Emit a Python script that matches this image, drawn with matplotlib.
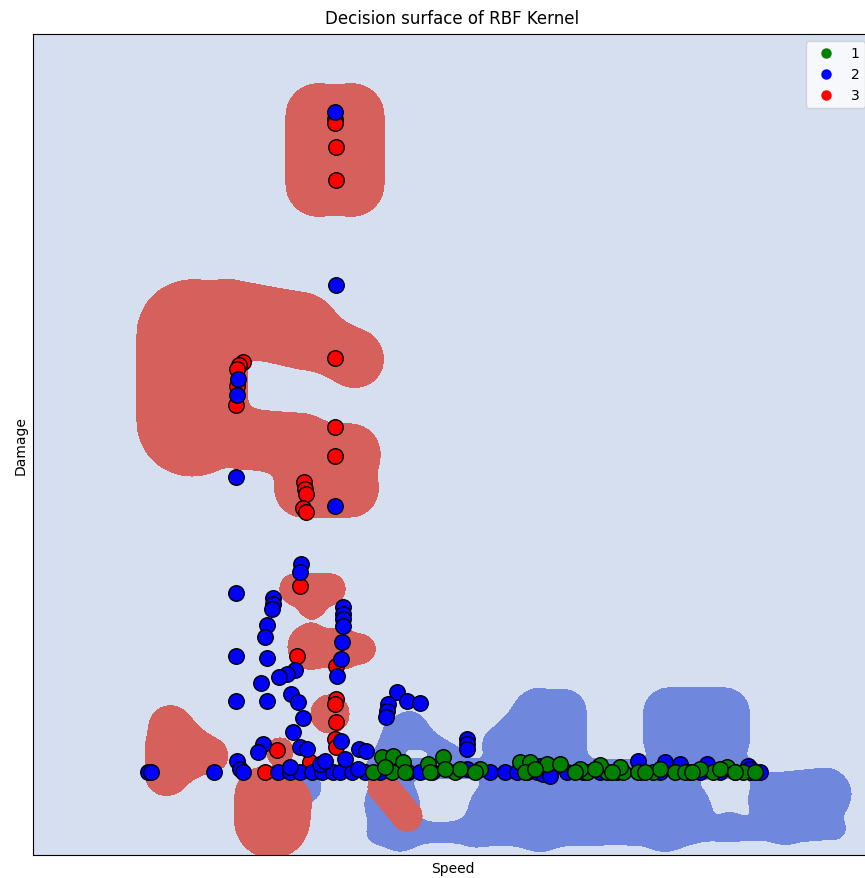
import numpy as np
import matplotlib
matplotlib.use("Agg")
import matplotlib.pyplot as plt
from matplotlib.lines import Line2D

# ---------------- data: observations ----------------
class1_speed = [382, 393, 403, 373, 392, 443, 455, 428, 520, 530, 547, 560, 587, 607, 623, 638,
                653, 675, 713, 743, 727, 600, 460, 480, 580, 620, 660, 385, 405, 430, 445, 475,
                525, 535, 575, 595, 612, 645, 685, 720, 735, 755, 700, 692]
class1_damage = [98, 99, 93, 83, 83, 98, 83, 91, 93, 93, 91, 91, 83, 83, 83, 83,
                 83, 83, 83, 83, 88, 90, 86, 86, 86, 88, 86, 88, 83, 83, 86, 83,
                 83, 86, 83, 86, 83, 83, 83, 86, 83, 83, 86, 83]

class2_speed = [335, 336, 335, 238, 237, 236,
                301, 300, 236, 273, 273, 272, 343, 343, 343, 343, 267, 265, 342, 236, 267, 341,
                337, 295, 287, 279, 261, 291, 298, 236, 267, 303, 293, 341, 397, 407, 420, 388,
                387, 386, 467, 467, 467, 263, 258, 300, 307, 359, 366, 237, 240, 148, 151, 214, 243,
                278, 290, 300, 312, 322, 333, 340, 352, 365, 380, 408, 420, 432, 490, 505, 517,
                527, 537, 543, 550, 567, 583, 600, 617, 640, 660, 690, 700, 720, 735, 750, 760,
                290, 320, 325, 345, 358, 467, 540, 638, 665, 680, 707, 748, 750, 543, 550]
class2_damage = [743, 570, 349, 476, 460, 378,
                 291, 283, 262, 257, 251, 246, 248, 241, 236, 229, 230, 218, 213, 199, 197, 196,
                 179, 185, 181, 178, 172, 161, 153, 154, 154, 137, 123, 114, 163, 154, 152, 151,
                 144, 138, 116, 111, 106, 111, 103, 108, 106, 106, 104, 94, 86, 83, 83, 83, 83,
                 83, 83, 83, 83, 83, 83, 83, 83, 83, 83, 83, 83, 83, 83, 83, 83,
                 83, 83, 83, 83, 83, 83, 83, 83, 83, 83, 83, 83, 83, 83, 83, 83,
                 88, 91, 94, 96, 86, 86, 89, 94, 93, 91, 91, 89, 86, 81, 79]

class3_speed = [335, 335, 336, 336, 335, 335, 335, 243, 239, 237, 237, 236, 304, 305, 306, 303,
                306, 300, 297, 336, 336, 335, 336, 335, 336, 277, 265, 310]
class3_damage = [736, 732, 708, 675, 497, 428, 399, 493, 490, 486, 469, 450, 373, 366, 361, 347,
                 343, 269, 199, 189, 156, 151, 133, 116, 108, 105, 83, 93]

class_labels = ["1", "2", "3"]

# ---------------- data: fitted RBF decision-surface anchors ----------------
# class 3 region anchors: start speed, start damage, end speed, end damage, kernel radius
surf3_x0 = [318, 352, 192, 230, 300, 358, 245, 303, 303, 295, 312, 310, 340, 362, 330,
            170, 166, 170, 185, 175, 272, 262, 290, 280, 383]
surf3_y0 = [739, 739, 520, 538, 523, 494, 416, 401, 366, 266, 251, 208, 206, 206, 141,
            106, 80, 129, 121, 81, 34, 61, 56, 104, 68]
surf3_x1 = [318, 352, 192, 300, 352, 358, 300, 350, 350, 330, 312, 310, 340, 362, 330,
            170, 166, 170, 212, 215, 272, 262, 290, 280, 407]
surf3_y1 = [671, 671, 434, 525, 498, 494, 411, 401, 366, 266, 251, 208, 206, 206, 141,
            106, 80, 129, 104, 96, 34, 61, 56, 104, 39]
surf3_r = [32, 32, 55, 37, 28, 22, 30, 30, 28, 15, 13, 22, 20, 13, 19,
           24, 20, 20, 12, 10, 37, 26, 20, 13, 15]

# class 1 region anchors
surf1_x0 = [410, 410, 380, 380, 535, 565, 500, 668, 668, 500, 400, 475, 540, 665, 730, 785,
            392, 775, 810, 305, 378]
surf1_y0 = [126, 126, 86, 86, 144, 144, 111, 143, 116, 44, 24, 24, 26, 26, 30, 28,
            51, 56, 41, 68, 22]
surf1_x1 = [410, 455, 395, 750, 535, 565, 540, 725, 725, 680, 400, 475, 540, 665, 730, 785,
            392, 825, 810, 305, 835]
surf1_y1 = [126, 99, 121, 86, 96, 96, 146, 143, 116, 44, 24, 24, 26, 26, 30, 28,
            51, 61, 41, 68, 26]
surf1_r = [17, 10, 13, 10, 20, 22, 18, 25, 25, 32, 20, 14, 22, 22, 12, 16,
           28, 27, 20, 17, 11]

# ---------------- figure ----------------
fig = plt.figure(figsize=(8.65, 8.79), dpi=100)
ax = fig.add_axes([33 / 865, 23 / 879, (872 - 33) / 865, 821 / 879])

xs = np.arange(33, 873, 1.0)
ys = np.arange(0, 822, 1.0)
XX, YY = np.meshgrid(xs, ys)


def seg_dist(x0, y0, x1, y1):
    dx, dy = x1 - x0, y1 - y0
    L2 = dx * dx + dy * dy
    if L2 == 0:
        t = 0.0
    else:
        t = np.clip(((XX - x0) * dx + (YY - y0) * dy) / L2, 0, 1)
    return np.hypot(XX - (x0 + t * dx), YY - (y0 + t * dy))


def field(x0s, y0s, x1s, y1s, rs, k=5.0):
    acc = None
    for a, b, c, d, r in zip(x0s, y0s, x1s, y1s, rs):
        v = (r - seg_dist(a, b, c, d)) / k
        acc = v if acc is None else np.logaddexp(acc, v)
    return k * acc


F1 = field(surf1_x0, surf1_y0, surf1_x1, surf1_y1, surf1_r)
F3 = field(surf3_x0, surf3_y0, surf3_x1, surf3_y1, surf3_r)
Z = np.full(XX.shape, 2.0)
Z[F1 > 0] = 1
Z[F3 > 0] = 3

ax.contourf(XX, YY, Z, levels=[0.5, 1.5, 2.5, 3.5],
            colors=["#7087de", "#d6dff0", "#d5605c"])

sc_kw = dict(s=125, edgecolors="black", linewidths=1.0, zorder=3)
ax.scatter(class3_speed, class3_damage, c="red", **sc_kw)
ax.scatter(class2_speed, class2_damage, c="blue", **sc_kw)
ax.scatter(class1_speed, class1_damage, c="green", **sc_kw)

ax.set_xlim(33, 872)
ax.set_ylim(0, 821)
ax.set_xticks([])
ax.set_yticks([])
ax.set_xlabel("Speed", fontsize=10)
ax.set_ylabel("Damage", fontsize=10)
ax.set_title("Decision surface of RBF Kernel", fontsize=12, pad=8)

handles = [Line2D([], [], marker="o", linestyle="", color=col, markersize=6.5)
           for col in ["green", "blue", "red"]]
ax.legend(handles, class_labels, loc="upper right", fontsize=10)

fig.savefig("out.png", dpi=100)
